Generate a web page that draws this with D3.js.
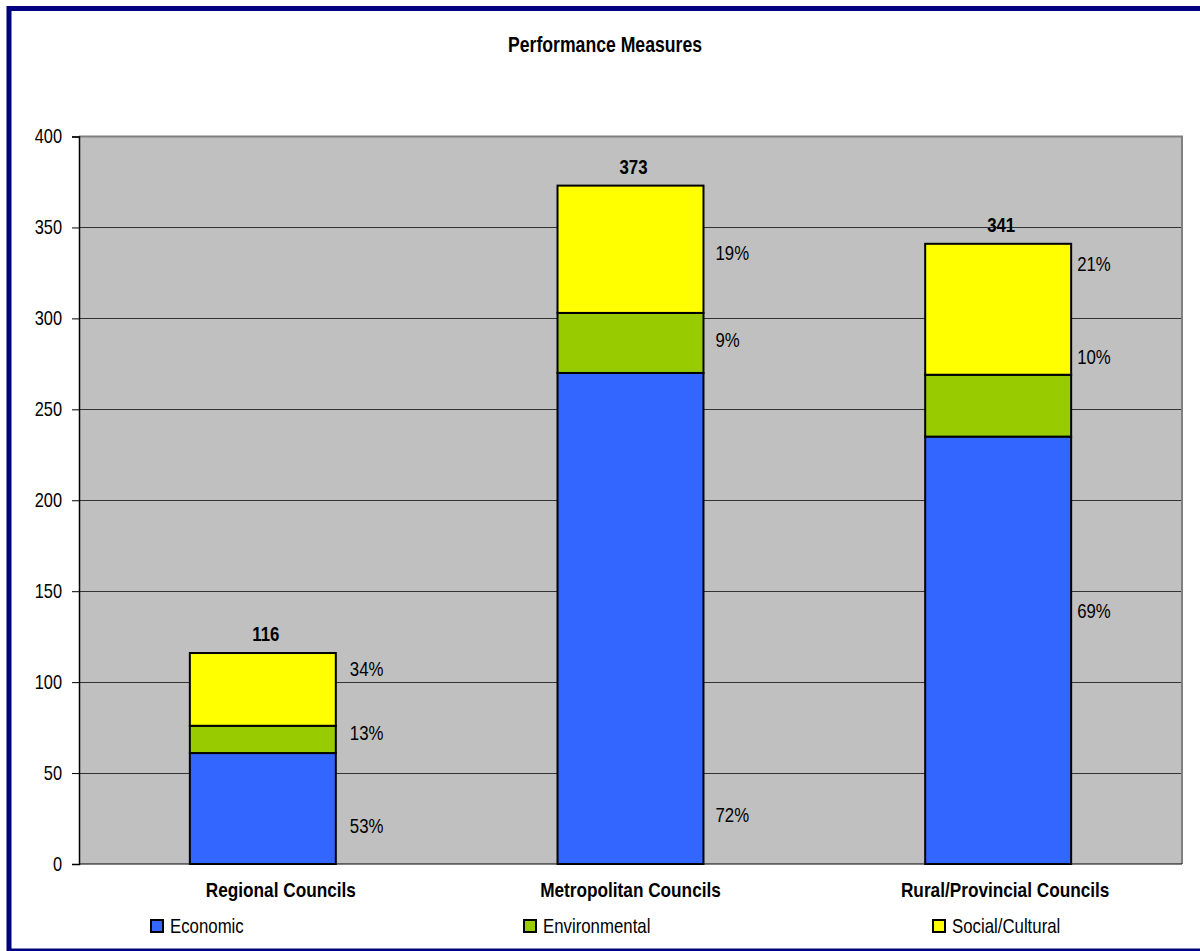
<!DOCTYPE html>
<html>
<head>
<meta charset="utf-8">
<script src="https://cdn.jsdelivr.net/npm/d3@7"></script>
<style>
  html, body { margin: 0; padding: 0; background: #fff; }
  svg { display: block; }
  text { font-family: "Liberation Sans", Arial, sans-serif; fill: #000; }
</style>
</head>
<body>
<svg id="chart" width="1200" height="951"></svg>
<script>
// ---- data ----
const categories = ["Regional Councils", "Metropolitan Councils", "Rural/Provincial Councils"];
const seriesNames = ["Economic", "Environmental", "Social/Cultural"];
const economic = [61, 270, 235];
const environmental = [15, 33, 34];
const socialCultural = [40, 70, 72];
const yTicks = [0, 50, 100, 150, 200, 250, 300, 350, 400];
const chartTitle = "Performance Measures";

// ---- layout / style ----
const plot = { left: 79, right: 1182, top: 136.5, bottom: 864 };
const colors = ["#3366FF", "#99CC00", "#FFFF00"];
const NARROW = 0.82; // horizontal squeeze giving a narrow sans look
// where each percentage label sits on the value axis, per series then category
const pctLabelLevels = [
  [21, 27, 139],
  [72, 288, 279],
  [107, 336, 330]
];
const pctLabelDx = [14, 12, 6];
const catLabelDx = [18, 0, 7];

// compress text horizontally around its own anchor point
function narrow(sel) {
  sel.each(function () {
    const t = d3.select(this);
    const tx = +t.attr("x") || 0, ty = +t.attr("y") || 0;
    t.attr("transform", `translate(${tx},${ty}) scale(${NARROW},1) translate(${-tx},${-ty})`);
  });
}

const svg = d3.select("#chart");

const seriesValues = [economic, environmental, socialCultural];
const rows = categories.map((c, i) => {
  const r = { category: c };
  seriesNames.forEach((s, k) => r[s] = seriesValues[k][i]);
  return r;
});
const totals = rows.map(r => d3.sum(seriesNames, s => r[s]));
const stacked = d3.stack().keys(seriesNames)(rows);

const x = d3.scaleBand().domain(categories).range([plot.left, plot.right]).padding(0);
const y = d3.scaleLinear().domain([0, 400]).range([plot.bottom, plot.top]);
const barW = x.bandwidth() * 0.397;
const barX = c => x(c) + (x.bandwidth() - barW) / 2;

// outer frame
svg.append("rect")
  .attr("x", 9).attr("y", 8.5).attr("width", 1210).attr("height", 942.5)
  .attr("fill", "#fff").attr("stroke", "#000080").attr("stroke-width", 5);

// title
svg.append("text")
  .attr("x", 605).attr("y", 52)
  .attr("text-anchor", "middle")
  .attr("font-size", 21.5).attr("font-weight", "bold")
  .text(chartTitle)
  .call(narrow);

// plot background
svg.append("rect")
  .attr("x", plot.left).attr("y", plot.top)
  .attr("width", plot.right - plot.left).attr("height", plot.bottom - plot.top)
  .attr("fill", "#C0C0C0");

// gridlines
svg.append("g")
  .selectAll("line")
  .data(yTicks.filter(t => t > 0 && t < 400))
  .join("line")
  .attr("x1", plot.left).attr("x2", plot.right)
  .attr("y1", d => Math.round(y(d)) + 0.5).attr("y2", d => Math.round(y(d)) + 0.5)
  .attr("stroke", "#333").attr("stroke-width", 1);

// plot border (top & right)
svg.append("path")
  .attr("d", `M${plot.left},${plot.top} H${plot.right} V${plot.bottom}`)
  .attr("fill", "none").attr("stroke", "#808080").attr("stroke-width", 2);

// y axis
const yAxis = svg.append("g")
  .attr("transform", `translate(${plot.left},0)`)
  .call(d3.axisLeft(y).tickValues(yTicks).tickSize(7).tickPadding(10));
yAxis.attr("font-family", null);
yAxis.select(".domain").attr("stroke", "#000").attr("stroke-width", 1.5);
yAxis.selectAll(".tick line").attr("stroke", "#000").attr("stroke-width", 1);
yAxis.selectAll(".tick text")
  .attr("font-size", 20).attr("fill", "#000")
  .attr("y", 0)
  .call(narrow);

// x baseline
svg.append("line")
  .attr("x1", plot.left).attr("x2", plot.right)
  .attr("y1", plot.bottom).attr("y2", plot.bottom)
  .attr("stroke", "#000").attr("stroke-width", 1);

// stacked bars
svg.append("g")
  .selectAll("g")
  .data(stacked)
  .join("g")
  .attr("fill", (d, i) => colors[i])
  .selectAll("rect")
  .data(d => d)
  .join("rect")
  .attr("x", d => barX(d.data.category))
  .attr("y", d => y(d[1]))
  .attr("width", barW)
  .attr("height", d => y(d[0]) - y(d[1]))
  .attr("stroke", "#000").attr("stroke-width", 2);

// totals above bars
svg.append("g")
  .selectAll("text")
  .data(categories)
  .join("text")
  .attr("x", (c, i) => barX(c) + barW / 2 + 3)
  .attr("y", (c, i) => y(totals[i]) - 12)
  .attr("text-anchor", "middle")
  .attr("font-size", 20.5).attr("font-weight", "bold")
  .text((c, i) => totals[i])
  .call(narrow);

// percentage labels
seriesNames.forEach((s, k) => {
  svg.append("g")
    .selectAll("text")
    .data(categories)
    .join("text")
    .attr("x", (c, i) => barX(c) + barW + pctLabelDx[i])
    .attr("y", (c, i) => y(pctLabelLevels[k][i]) + 7)
    .attr("font-size", 20.5)
    .text((c, i) => Math.round(seriesValues[k][i] / totals[i] * 100) + "%")
    .call(narrow);
});

// category labels
svg.append("g")
  .selectAll("text")
  .data(categories)
  .join("text")
  .attr("x", (c, i) => x(c) + x.bandwidth() / 2 + catLabelDx[i])
  .attr("y", 897)
  .attr("text-anchor", "middle")
  .attr("font-size", 21).attr("font-weight", "bold")
  .text(c => c)
  .call(narrow);

// legend
const legendX = [150, 523, 932];
const legend = svg.append("g")
  .selectAll("g")
  .data(seriesNames)
  .join("g")
  .attr("transform", (d, i) => `translate(${legendX[i]},919)`);
legend.append("rect")
  .attr("x", 1).attr("y", 1).attr("width", 12).attr("height", 12)
  .attr("fill", (d, i) => colors[i]).attr("stroke", "#000").attr("stroke-width", 2);
legend.append("text")
  .attr("x", 20).attr("y", 14)
  .attr("font-size", 20.5)
  .text(d => d)
  .call(narrow);
</script>
</body>
</html>
